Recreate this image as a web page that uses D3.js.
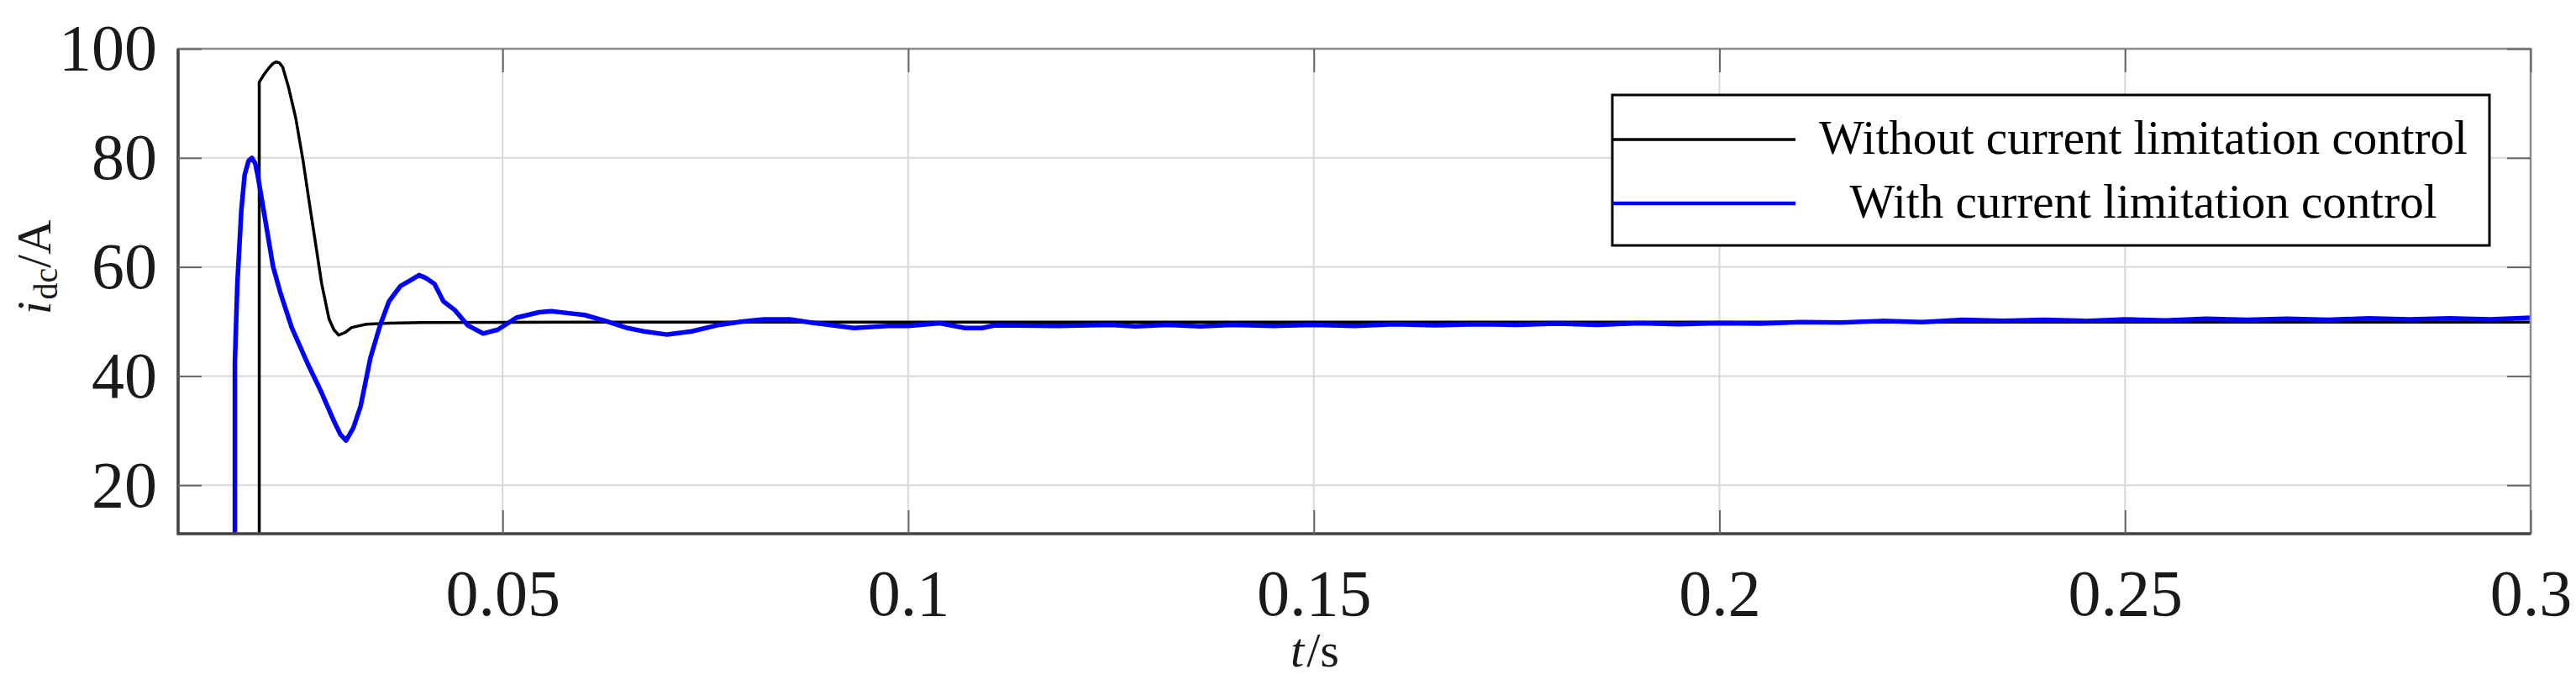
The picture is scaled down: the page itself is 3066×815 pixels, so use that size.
<!DOCTYPE html>
<html lang="en">
  <head>
    <meta charset="utf-8">
    <title>idc response</title>
    <script src="https://cdn.jsdelivr.net/npm/d3@7"></script>
    <style>
      body { margin: 0; background: #fff; }
      .axis path { display: none; }
      .axis line { stroke: #666; stroke-width: 2; }
      .axis text {
        font-family: "Liberation Serif", "Times New Roman", serif;
        font-size: 78px;
        fill: #1a1a1a;
      }
      .grid line { stroke: #d9d9d9; stroke-width: 2; }
    </style>
  </head>
  <body>
    <script>

      var w = 3066;
      var h = 815;

      // tick values
      var xTicks = [0.05, 0.1, 0.15, 0.2, 0.25, 0.3];
      var xTickLabels = ["0.05", "0.1", "0.15", "0.2", "0.25", "0.3"];
      var yTicks = [20, 40, 60, 80, 100];

      var seriesNames = ["Without current limitation control", "With current limitation control"];

      // without current limitation (black)
      var timeBlack = [0.0200, 0.0200, 0.0206, 0.0212, 0.0217, 0.0221, 0.0225, 0.0229, 0.0236, 0.0245,
                       0.0254, 0.0261, 0.0268, 0.0277, 0.0286, 0.0292, 0.0298, 0.0306, 0.0314, 0.0332,
                       0.0360, 0.0400, 0.0600, 0.1000, 0.2000, 0.3000];
      var currentBlack = [0, 93.9, 95.3, 96.5, 97.3, 97.6, 97.4, 96.6, 93.0, 87.3,
                          79.5, 72.5, 65.7, 56.9, 50.5, 48.5, 47.5, 48.0, 48.9, 49.5,
                          49.7, 49.8, 49.9, 49.9, 49.9, 49.9];

      // with current limitation (blue)
      var timeBlue = [0.0170, 0.0170, 0.0173, 0.0178, 0.0182, 0.0187, 0.0191, 0.0195, 0.0198, 0.0203,
                      0.0208, 0.0217, 0.0226, 0.0240, 0.0259, 0.0277, 0.0291, 0.0300, 0.0307, 0.0316,
                      0.0325, 0.0337, 0.0349, 0.0360, 0.0374, 0.0388, 0.0397, 0.0405, 0.0416, 0.0427,
                      0.0441, 0.0457, 0.0476, 0.0494, 0.0517, 0.0545, 0.0560, 0.0577, 0.0601, 0.0627,
                      0.0654, 0.0674, 0.0703, 0.0733, 0.0764, 0.0796, 0.0822, 0.0854, 0.0880, 0.0933,
                      0.0975, 0.1000, 0.1039, 0.1070, 0.1091, 0.1107, 0.1186, 0.1250, 0.1280, 0.1320,
                      0.1360, 0.1400, 0.1450, 0.1500, 0.1550, 0.1600, 0.1650, 0.1700, 0.1750, 0.1800,
                      0.1850, 0.1900, 0.1950, 0.2000, 0.2050, 0.2100, 0.2150, 0.2200, 0.2250, 0.2300,
                      0.2350, 0.2400, 0.2450, 0.2500, 0.2550, 0.2600, 0.2650, 0.2700, 0.2750, 0.2800,
                      0.2850, 0.2900, 0.2950, 0.3000];
      var currentBlue = [0, 42.5, 56.9, 70.5, 76.9, 79.5, 80.0, 79.0, 76.9, 72.5,
                         68.1, 60.1, 55.3, 48.9, 42.5, 36.9, 32.1, 29.3, 28.2, 30.5,
                         34.5, 43.3, 49.3, 53.7, 56.5, 57.7, 58.5, 58.0, 56.9, 53.7,
                         52.1, 49.3, 47.8, 48.5, 50.7, 51.7, 51.9, 51.6, 51.2, 50.1,
                         48.8, 48.2, 47.6, 48.2, 49.3, 50.0, 50.4, 50.4, 49.8, 48.8,
                         49.2, 49.2, 49.7, 48.8, 48.8, 49.3, 49.2, 49.4, 49.1, 49.4,
                         49.1, 49.4, 49.2, 49.4, 49.2, 49.5, 49.3, 49.5, 49.4, 49.6,
                         49.4, 49.7, 49.5, 49.7, 49.6, 49.9, 49.8, 50.1, 49.9, 50.3,
                         50.1, 50.3, 50.1, 50.4, 50.2, 50.5, 50.3, 50.5, 50.3, 50.6,
                         50.4, 50.6, 50.4, 50.7];

      var padLeft = 212, padRight = 3012, padTop = 58, padBottom = 635;

      var svg = d3.select("body")
                  .append("svg")
                  .attr("width", w)
                  .attr("height", h);

      var xScale = d3.scaleLinear()
                     .domain([0.01, 0.3])
                     .range([padLeft, padRight]);

      var yScale = d3.scaleLinear()
                     .domain([11.1, 100])
                     .range([padBottom, padTop]);

      // grid
      var grid = svg.append("g").attr("class", "grid");

      grid.selectAll("line.v")
          .data(xTicks)
          .enter()
          .append("line")
          .attr("class", "v")
          .attr("x1", function(d) { return xScale(d); })
          .attr("x2", function(d) { return xScale(d); })
          .attr("y1", padTop)
          .attr("y2", padBottom);

      grid.selectAll("line.h")
          .data(yTicks)
          .enter()
          .append("line")
          .attr("class", "h")
          .attr("x1", padLeft)
          .attr("x2", padRight)
          .attr("y1", function(d) { return yScale(d); })
          .attr("y2", function(d) { return yScale(d); });

      // curves, clipped to the plot box
      svg.append("clipPath")
         .attr("id", "plotClip")
         .append("rect")
         .attr("x", padLeft)
         .attr("y", padTop)
         .attr("width", padRight - padLeft)
         .attr("height", padBottom - padTop);

      var line = d3.line()
                   .x(function(d) { return xScale(d[0]); })
                   .y(function(d) { return yScale(d[1]); });

      var blackData = d3.zip(timeBlack, currentBlack);
      var blueData = d3.zip(timeBlue, currentBlue);

      var curves = svg.append("g").attr("clip-path", "url(#plotClip)");

      curves.append("path")
            .datum(blackData)
            .attr("d", line)
            .attr("fill", "none")
            .attr("stroke", "#000")
            .attr("stroke-width", 3.5)
            .attr("stroke-linejoin", "round");

      curves.append("path")
            .datum(blueData)
            .attr("d", line)
            .attr("fill", "none")
            .attr("stroke", "#0000ff")
            .attr("stroke-width", 5.5)
            .attr("stroke-linejoin", "round");

      // frame
      svg.append("rect")
         .attr("x", padLeft)
         .attr("y", padTop)
         .attr("width", padRight - padLeft)
         .attr("height", padBottom - padTop)
         .attr("fill", "none")
         .attr("stroke", "#8c8c8c")
         .attr("stroke-width", 2.5);

      svg.append("path")
         .attr("d", "M" + padLeft + "," + padTop + "V" + padBottom + "H" + padRight)
         .attr("fill", "none")
         .attr("stroke", "#444")
         .attr("stroke-width", 3.5);

      // axes with inward ticks
      var xAxis = d3.axisBottom(xScale)
                    .tickValues(xTicks)
                    .tickFormat(function(d, i) { return xTickLabels[i]; })
                    .tickSizeInner(-28)
                    .tickSizeOuter(0)
                    .tickPadding(42);

      var yAxis = d3.axisLeft(yScale)
                    .tickValues(yTicks)
                    .tickFormat(d3.format("d"))
                    .tickSizeInner(-28)
                    .tickSizeOuter(0)
                    .tickPadding(25);

      svg.append("g")
         .attr("class", "axis")
         .attr("transform", "translate(0," + padBottom + ")")
         .call(xAxis);

      svg.append("g")
         .attr("class", "axis")
         .attr("transform", "translate(" + padLeft + ",0)")
         .call(yAxis);

      svg.append("g")
         .attr("class", "axis")
         .attr("transform", "translate(0," + padTop + ")")
         .call(d3.axisTop(xScale).tickValues(xTicks).tickFormat("").tickSizeInner(-28).tickSizeOuter(0));

      svg.append("g")
         .attr("class", "axis")
         .attr("transform", "translate(" + padRight + ",0)")
         .call(d3.axisRight(yScale).tickValues(yTicks).tickFormat("").tickSizeInner(-28).tickSizeOuter(0));

      // axis titles
      var serif = "'Liberation Serif', 'Times New Roman', serif";

      var yTitle = svg.append("text")
                      .attr("transform", "translate(60,318) rotate(-90)")
                      .attr("text-anchor", "middle")
                      .attr("font-family", serif)
                      .attr("font-size", "57px")
                      .attr("fill", "#1a1a1a");
      yTitle.append("tspan").attr("font-style", "italic").text("i");
      yTitle.append("tspan").attr("font-size", "40px").attr("dy", 8).attr("dx", 2).text("dc");
      yTitle.append("tspan").attr("dy", -8).text("/A");

      var xTitle = svg.append("text")
                      .attr("x", 1565)
                      .attr("y", 793)
                      .attr("text-anchor", "middle")
                      .attr("font-family", serif)
                      .attr("font-size", "58px")
                      .attr("fill", "#1a1a1a");
      xTitle.append("tspan").attr("font-style", "italic").text("t");
      xTitle.append("tspan").attr("dx", 3).text("/s");

      // legend
      var legend = svg.append("g");
      legend.append("rect")
            .attr("x", 1919)
            .attr("y", 113)
            .attr("width", 1044)
            .attr("height", 179)
            .attr("fill", "#fff")
            .attr("stroke", "#000")
            .attr("stroke-width", 3);

      var legendColors = ["#000", "#0000ff"];
      var legendWidths = [3.5, 4.5];
      var legendY = [166, 242];

      legend.selectAll("line.key")
            .data(seriesNames)
            .enter()
            .append("line")
            .attr("x1", 1919)
            .attr("x2", 2137)
            .attr("y1", function(d, i) { return legendY[i]; })
            .attr("y2", function(d, i) { return legendY[i]; })
            .attr("stroke", function(d, i) { return legendColors[i]; })
            .attr("stroke-width", function(d, i) { return legendWidths[i]; });

      legend.selectAll("text")
            .data(seriesNames)
            .enter()
            .append("text")
            .attr("x", 2551)
            .attr("y", function(d, i) { return legendY[i] + 17; })
            .attr("text-anchor", "middle")
            .attr("font-family", serif)
            .attr("font-size", "57px")
            .attr("fill", "#000")
            .text(function(d) { return d; });

    </script>
  </body>
</html>
